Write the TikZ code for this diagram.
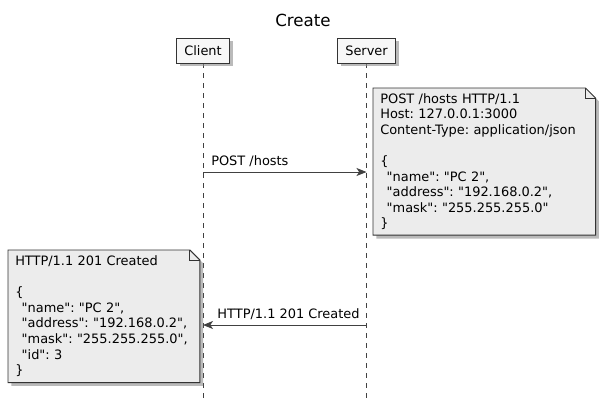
\documentclass[tikz,border=0pt]{standalone}
\usepackage{fontspec}
\setmainfont{DejaVu Sans}[Ligatures=TeXOff]
\usetikzlibrary{arrows.meta,positioning,shadows,backgrounds}

\definecolor{notefill}{HTML}{ECECEC}
\definecolor{boxfill}{HTML}{F7F7F7}
\definecolor{linegray}{HTML}{414141}

\frenchspacing
\newcommand{\seqfont}{\fontsize{9.7}{11.7}\selectfont}
% folded note outline behind a note node
\newcommand{\noteoutline}[1]{%
	\path[notebox] (#1.north west) -- ([xshift=-7.5pt]#1.north east)
		-- ([yshift=-7.5pt]#1.north east) -- (#1.south east)
		-- (#1.south west) -- cycle;
	\draw[notefold] ([xshift=-7.5pt]#1.north east) |- ([yshift=-7.5pt]#1.north east);}

\begin{document}
\begin{tikzpicture}[x=0.75pt,y=-0.75pt,>={Stealth[length=7.5pt,width=6pt,inset=2pt]},
	participant/.style={draw=black!80,fill=boxfill,line width=0.7pt,inner xsep=5.6pt,minimum height=18.75pt,font=\seqfont,
		drop shadow={shadow xshift=2.5pt,shadow yshift=-2.5pt,fill=black!45,opacity=0.6}},
	lifeline/.style={draw=linegray,line width=0.6pt,dash pattern=on 3.75pt off 3.75pt},
	msg/.style={->,draw=linegray,line width=0.7pt},
	msglabel/.style={font=\seqfont,inner sep=0pt},
	note/.style={anchor=north west,align=left,inner xsep=5.25pt,inner ysep=3pt,font=\seqfont},
	notebox/.style={draw=black!80,fill=notefill,line width=0.7pt,
		drop shadow={shadow xshift=2.5pt,shadow yshift=-2.5pt,fill=black!45,opacity=0.6}},
	notefold/.style={draw=black!80,line width=0.7pt}]

	\useasboundingbox (0,0) rectangle (605,412);

	% Title and participants
	\node [font=\fontsize{12.5}{15}\selectfont] at (303,20) (title) {Create};
	\node [participant] at (203,50.5) (client) {Client};
	\node [participant] at (366.5,50.5) (server) {Server};

	\coordinate (clientend) at (203,398);
	\coordinate (serverend) at (366.5,398);

	% Lifelines
	\begin{scope}[on background layer]
	\draw [lifeline] (client.south) -- (clientend);
	\draw [lifeline] (server.south) -- (serverend);
	\end{scope}

	% Messages
	\coordinate (c1) at (203,172);
	\coordinate (s1) at (366.5,172);
	\coordinate (c2) at (203,325);
	\coordinate (s2) at (366.5,325);

	\path
	(c1) edge[msg] (s1)
	(s2) edge[msg] (c2)
	;
	\node [msglabel,anchor=south west] at ([xshift=6pt,yshift=3.5pt]c1) (post) {POST /hosts};
	\node [msglabel,anchor=south east] at ([xshift=-5pt,yshift=3.5pt]s2) (created) {HTTP/1.1 201 Created};

	% Notes
	\node [note,text width=156pt,minimum height=110pt] at (373,88) (request) {%
		POST /hosts HTTP/1.1\\
		Host: 127.0.0.1:3000\\
		Content-Type: application/json\\[11.7pt]
		\{\\
		\hspace*{0.5em}"name": "PC 2",\\
		\hspace*{0.5em}"address": "192.168.0.2",\\
		\hspace*{0.5em}"mask": "255.255.255.0"\\
		\}};
	\node [note,text width=133pt,minimum height=99pt] at (8,250) (response) {%
		HTTP/1.1 201 Created\\[11.7pt]
		\{\\
		\hspace*{0.5em}"name": "PC 2",\\
		\hspace*{0.5em}"address": "192.168.0.2",\\
		\hspace*{0.5em}"mask": "255.255.255.0",\\
		\hspace*{0.5em}"id": 3\\
		\}};

	\begin{scope}[on background layer]
	\noteoutline{request}
	\noteoutline{response}
	\end{scope}

\end{tikzpicture}
\end{document}
